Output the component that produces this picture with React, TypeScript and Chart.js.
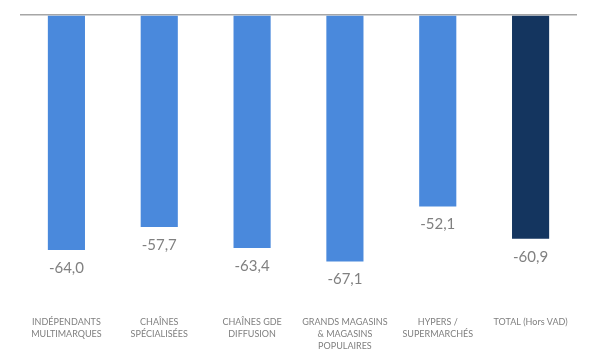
import React, { useEffect, useRef } from "react";
import { Chart, registerables } from "chart.js";

Chart.register(...registerables);

const categories: string[][] = [
  ["INDÉPENDANTS", "MULTIMARQUES"],
  ["CHAÎNES", "SPÉCIALISÉES"],
  ["CHAÎNES GDE", "DIFFUSION"],
  ["GRANDS MAGASINS", "& MAGASINS", "POPULAIRES"],
  ["HYPERS /", "SUPERMARCHÉS"],
  ["TOTAL (Hors VAD)"],
];
const values: number[] = [-64.0, -57.7, -63.4, -67.1, -52.1, -60.9];
const barColors: string[] = ["#4A89DC", "#4A89DC", "#4A89DC", "#4A89DC", "#4A89DC", "#14355F"];

const valueLabels = {
  id: "valueLabels",
  afterDatasetsDraw(chart: any) {
    const ctx = chart.ctx;
    const meta = chart.getDatasetMeta(0);
    ctx.save();
    ctx.font = "15px Lato, 'Open Sans', sans-serif";
    ctx.fillStyle = "#808080";
    ctx.textAlign = "center";
    ctx.textBaseline = "middle";
    meta.data.forEach((bar: any, i: number) => {
      const v = values[i];
      const txt = v.toFixed(1).replace(".", ",");
      ctx.fillText(txt, bar.x, bar.y + 18);
    });
    ctx.restore();
  },
};

export default function App() {
  const ref = useRef<HTMLCanvasElement>(null);
  useEffect(() => {
    if (!ref.current) return;
    const chart = new Chart(ref.current, {
      type: "bar",
      data: {
        labels: categories,
        datasets: [
          {
            data: values,
            backgroundColor: barColors,
            barPercentage: 0.4,
            categoryPercentage: 1,
          },
        ],
      },
      options: {
        responsive: false,
        animation: false,
        layout: { padding: { top: 15, left: 20, right: 14, bottom: 3 } },
        plugins: { legend: { display: false }, tooltip: { enabled: false } },
        scales: {
          x: {
            position: "bottom",
            grid: { display: false },
            border: { display: false },
            ticks: {
              padding: 6,
              color: "#7f7f7f",
              font: { family: "Lato, 'Open Sans', sans-serif", size: 9, lineHeight: 1.35 },
              maxRotation: 0,
              autoSkip: false,
            },
          },
          y: {
            min: -78,
            max: 0,
            ticks: { display: false, stepSize: 10 },
            border: { display: false },
            grid: {
              drawTicks: false,
              color: (c: any) => (c.tick && c.tick.value === 0 ? "#A6A6A6" : "rgba(0,0,0,0)"),
              lineWidth: 1.5,
            },
          },
        },
      },
      plugins: [valueLabels],
    });
    return () => chart.destroy();
  }, []);
  return (
    <div style={{ position: "fixed", left: 0, top: 0, width: 591, height: 361, background: "#fff" }}>
      <canvas ref={ref} width={591} height={361} />
    </div>
  );
}
